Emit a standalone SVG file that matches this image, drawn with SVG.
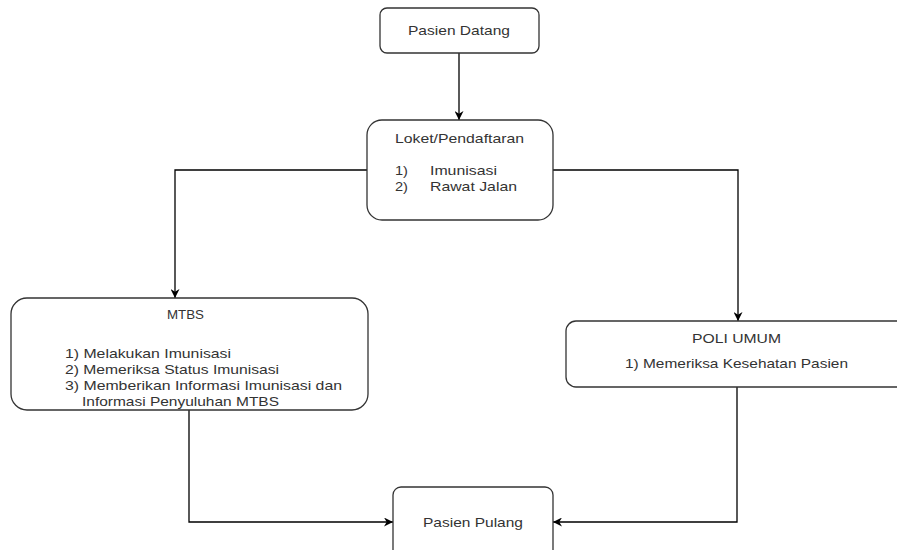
<svg xmlns="http://www.w3.org/2000/svg" width="897" height="550" viewBox="0 0 897 550">
  <defs>
    <marker id="arrow" viewBox="0 0 10 10" refX="10" refY="5" markerWidth="9" markerHeight="9" markerUnits="userSpaceOnUse" orient="auto">
      <path d="M0,0 L10,5 L0,10 L3,5 Z" fill="#000"/>
    </marker>
    <style>
      .box { fill: #fff; stroke: #333; stroke-width: 1.3; }
      .lbl { font-family: "Liberation Sans", Arial, sans-serif; font-size: 13.5px; fill: #333; }
      .edge { fill: none; stroke: #000; stroke-width: 1.3; marker-end: url(#arrow); }
    </style>
  </defs>
  <rect width="897" height="550" fill="#fff"/>

  <g id="connectors">
    <path class="edge" d="M459,53 L459,120"/>
    <path class="edge" d="M367,170 L175,170 L175,298"/>
    <path class="edge" d="M553,170 L738,170 L738,321"/>
    <path class="edge" d="M189,410 L189,522 L393,522"/>
    <path class="edge" d="M737,387 L737,522 L553,522"/>
  </g>

  <g id="pasien-datang">
    <rect class="box" x="380" y="8" width="159" height="45" rx="7"/>
    <text class="lbl" x="408" y="35" textLength="102" lengthAdjust="spacingAndGlyphs">Pasien Datang</text>
  </g>

  <g id="loket">
    <rect class="box" x="367" y="120" width="186" height="100" rx="15"/>
    <text class="lbl" x="395" y="143" textLength="129" lengthAdjust="spacingAndGlyphs">Loket/Pendaftaran</text>
    <text class="lbl" x="395" y="175" textLength="13" lengthAdjust="spacingAndGlyphs">1)</text>
    <text class="lbl" x="430" y="175" textLength="67" lengthAdjust="spacingAndGlyphs">Imunisasi</text>
    <text class="lbl" x="395" y="191" textLength="13" lengthAdjust="spacingAndGlyphs">2)</text>
    <text class="lbl" x="430" y="191" textLength="87" lengthAdjust="spacingAndGlyphs">Rawat Jalan</text>
  </g>

  <g id="mtbs">
    <rect class="box" x="11" y="298" width="357" height="112" rx="16"/>
    <text class="lbl" x="167" y="319" textLength="37" lengthAdjust="spacingAndGlyphs">MTBS</text>
    <text class="lbl" x="65" y="358" textLength="166" lengthAdjust="spacingAndGlyphs">1) Melakukan Imunisasi</text>
    <text class="lbl" x="65" y="374" textLength="214" lengthAdjust="spacingAndGlyphs">2) Memeriksa Status Imunisasi</text>
    <text class="lbl" x="65" y="390" textLength="277" lengthAdjust="spacingAndGlyphs">3) Memberikan Informasi Imunisasi dan</text>
    <text class="lbl" x="82" y="406" textLength="197" lengthAdjust="spacingAndGlyphs">Informasi Penyuluhan MTBS</text>
  </g>

  <g id="poli-umum">
    <rect class="box" x="566" y="321" width="360" height="66" rx="10"/>
    <text class="lbl" x="692" y="343" textLength="89" lengthAdjust="spacingAndGlyphs">POLI UMUM</text>
    <text class="lbl" x="625" y="368" textLength="223" lengthAdjust="spacingAndGlyphs">1) Memeriksa Kesehatan Pasien</text>
  </g>

  <g id="pasien-pulang">
    <rect class="box" x="393" y="487" width="160" height="80" rx="8"/>
    <text class="lbl" x="423" y="527" textLength="100" lengthAdjust="spacingAndGlyphs">Pasien Pulang</text>
  </g>
</svg>
